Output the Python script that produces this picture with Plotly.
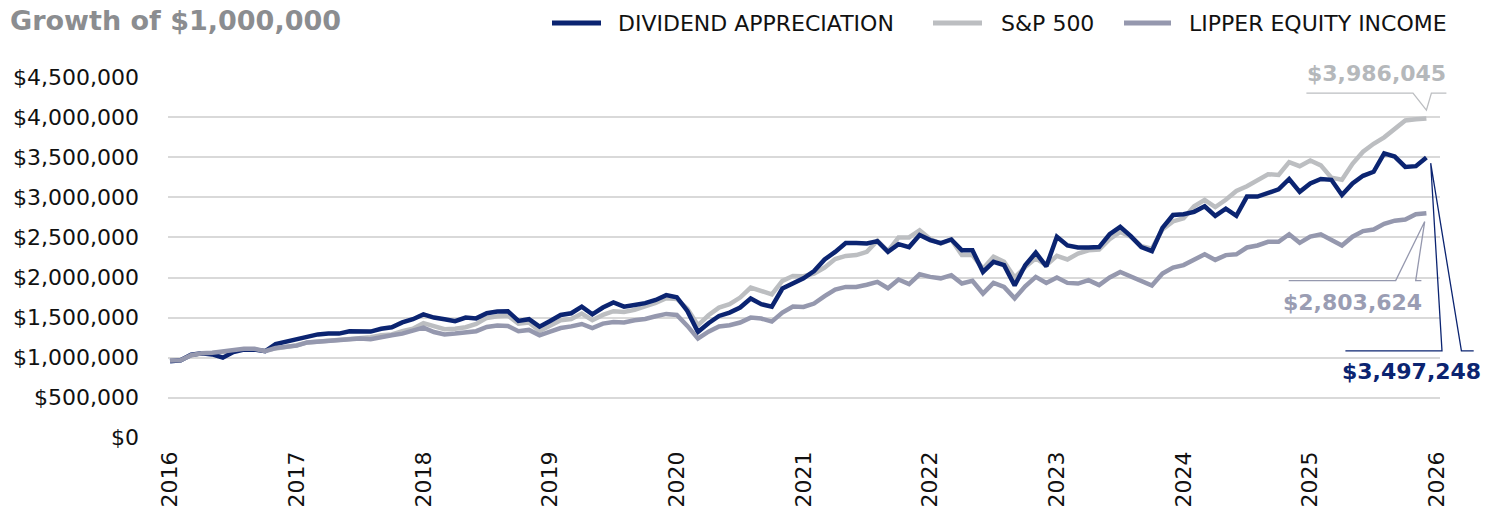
import plotly.graph_objects as go

# ---------------- data (monthly, Jan 2016 - Dec 2025) ----------------
start_year = 2016
dividend_appreciation = [
    955000, 967000, 1037000, 1054000, 1040000, 1000000, 1070000, 1100000, 1100000, 1080000, 1170000, 1200000,
    1230000, 1260000, 1290000, 1300000, 1300000, 1330000, 1330000, 1325000, 1360000, 1380000, 1440000, 1480000,
    1540000, 1500000, 1480000, 1455000, 1500000, 1490000, 1554000, 1575000, 1580000, 1458000, 1480000, 1387000,
    1458000, 1533000, 1554000, 1637000, 1540000, 1625000, 1688000, 1637000, 1658000, 1680000, 1720000, 1780000,
    1754000, 1583000, 1320000, 1430000, 1520000, 1562000, 1625000, 1738000, 1667000, 1637000, 1862000, 1925000,
    1990000, 2080000, 2225000, 2320000, 2430000, 2430000, 2425000, 2454000, 2320000, 2417000, 2380000, 2530000,
    2467000, 2430000, 2475000, 2340000, 2340000, 2070000, 2196000, 2154000, 1900000, 2154000, 2310000, 2140000,
    2510000, 2400000, 2375000, 2375000, 2380000, 2540000, 2633000, 2517000, 2380000, 2330000, 2620000, 2780000,
    2790000, 2820000, 2890000, 2770000, 2860000, 2770000, 3010000, 3010000, 3050000, 3100000, 3230000, 3070000,
    3175000, 3230000, 3220000, 3030000, 3175000, 3270000, 3320000, 3550000, 3510000, 3380000, 3390000, 3497248,
]
sp500 = [
    962000, 968000, 1030000, 1050000, 1055000, 1070000, 1090000, 1100000, 1100000, 1085000, 1115000, 1135000,
    1155000, 1190000, 1200000, 1210000, 1225000, 1235000, 1250000, 1255000, 1280000, 1290000, 1330000, 1360000,
    1430000, 1390000, 1355000, 1360000, 1380000, 1420000, 1496000, 1517000, 1525000, 1425000, 1438000, 1333000,
    1408000, 1467000, 1483000, 1550000, 1467000, 1533000, 1580000, 1570000, 1596000, 1638000, 1683000, 1742000,
    1733000, 1612000, 1404000, 1529000, 1625000, 1667000, 1750000, 1875000, 1833000, 1790000, 1958000, 2020000,
    2017000, 2050000, 2125000, 2230000, 2270000, 2280000, 2320000, 2460000, 2330000, 2500000, 2500000, 2590000,
    2480000, 2425000, 2475000, 2280000, 2280000, 2110000, 2260000, 2196000, 2000000, 2130000, 2240000, 2154000,
    2270000, 2225000, 2300000, 2340000, 2350000, 2480000, 2570000, 2510000, 2390000, 2360000, 2600000, 2700000,
    2740000, 2890000, 2970000, 2880000, 2970000, 3080000, 3140000, 3210000, 3290000, 3280000, 3440000, 3390000,
    3460000, 3400000, 3245000, 3220000, 3420000, 3570000, 3670000, 3750000, 3850000, 3960000, 3975000, 3986045,
]
lipper_equity_income = [
    965000, 967000, 1030000, 1054000, 1060000, 1080000, 1100000, 1110000, 1110000, 1080000, 1120000, 1140000,
    1150000, 1190000, 1200000, 1210000, 1220000, 1225000, 1240000, 1230000, 1260000, 1280000, 1300000, 1340000,
    1375000, 1320000, 1290000, 1300000, 1310000, 1330000, 1383000, 1400000, 1396000, 1330000, 1346000, 1279000,
    1325000, 1370000, 1390000, 1420000, 1370000, 1425000, 1446000, 1438000, 1467000, 1483000, 1517000, 1546000,
    1533000, 1396000, 1238000, 1325000, 1390000, 1404000, 1438000, 1500000, 1488000, 1450000, 1562000, 1638000,
    1633000, 1675000, 1767000, 1850000, 1883000, 1883000, 1910000, 1946000, 1867000, 1975000, 1917000, 2040000,
    2008000, 1990000, 2030000, 1925000, 1958000, 1800000, 1933000, 1883000, 1740000, 1890000, 2008000, 1933000,
    2000000, 1933000, 1925000, 1967000, 1905000, 2000000, 2070000, 2010000, 1946000, 1900000, 2050000, 2125000,
    2155000, 2225000, 2290000, 2220000, 2280000, 2290000, 2375000, 2400000, 2446000, 2446000, 2540000, 2433000,
    2510000, 2540000, 2467000, 2400000, 2510000, 2580000, 2600000, 2670000, 2710000, 2725000, 2790000, 2803624,
]
series_names = ["DIVIDEND APPRECIATION", "S&P 500", "LIPPER EQUITY INCOME"]
year_ticks = list(range(2016, 2027))
y_ticks = list(range(0, 4500001, 500000))

x_vals = [start_year + i / 12 for i in range(len(dividend_appreciation))]

# ---------------- styling ----------------
NAVY = "#0b2471"
LIGHT = "#bcbec1"
PURPLE = "#9598ae"
GRID = "#d9d9d9"
FONT = "DejaVu Sans"
LW = 4.5

W_FIG, H_FIG = 1497, 514
ML, MR, MT, MB = 168, 57, 77, 76
PW, PH = W_FIG - ML - MR, H_FIG - MT - MB
XR = [2015.984, 2026.024]
YR = [-3000, 4503000]

fig = go.Figure()
# drawing order: S&P at the bottom, then Dividend, then Lipper
fig.add_trace(go.Scatter(x=x_vals, y=sp500, name=series_names[1], mode="lines",
                         line=dict(color=LIGHT, width=LW)))
fig.add_trace(go.Scatter(x=x_vals, y=dividend_appreciation, name=series_names[0], mode="lines",
                         line=dict(color=NAVY, width=LW)))
fig.add_trace(go.Scatter(x=x_vals, y=lipper_equity_income, name=series_names[2], mode="lines",
                         line=dict(color=PURPLE, width=LW)))


def to_paper(xv, yv):
    return (xv - XR[0]) / (XR[1] - XR[0]), (yv - YR[0]) / (YR[1] - YR[0])


def off(p, dx, dy):
    # dx, dy in screen pixels (dy positive = down)
    return p[0] + dx / PW, p[1] - dy / PH


def px2paper(x, y):
    return (x - ML) / PW, (H_FIG - MB - y) / PH


def path(points):
    return "M" + " L".join(f"{x:.5f},{y:.5f}" for x, y in points)


# ---------------- end-value callouts ----------------
end_x = x_vals[-1]
callouts = [
    (sp500, "#b5b8bb", (-50, -45),
     [(-120, -25.3), (-13.4, -25.3), (0, -8.3), (5, -25.3), (20, -25.3)], (-93, -16, 80, 24), LIGHT),
    (lipper_equity_income, "#9a9db3", (-74, 89),
     [(-137.7, 67.4), (-30.7, 67.4), (-1.7, 8.4), (-10.7, 67.4), (-5, 67.4)], (-86, -32, 95, 10), PURPLE),
    (dividend_appreciation, NAVY, (-15, 214),
     [(-81, 193.3), (15.6, 193.3), (4.3, 5.6), (35, 193.3), (47.3, 193.3)], (-90, -20, 40, 20), NAVY),
]

for vals, tcol, loff, leader, rect, lcol in callouts:
    ep = to_paper(end_x, vals[-1])
    lp = off(ep, *loff)
    r0 = off(lp, rect[0], rect[3])
    r1 = off(lp, rect[2], rect[1])
    fig.add_shape(type="rect", xref="paper", yref="paper", x0=r0[0], y0=r0[1], x1=r1[0], y1=r1[1],
                  fillcolor="white", line=dict(width=0), layer="between")
    fig.add_shape(type="path", xref="paper", yref="paper", path=path([off(ep, dx, dy) for dx, dy in leader]),
                  line=dict(color=lcol, width=1.3), layer="above")
    fig.add_annotation(x=lp[0], y=lp[1], xref="paper", yref="paper", showarrow=False,
                       text=f"<b>${vals[-1]:,.0f}</b>", xanchor="center", yanchor="middle",
                       font=dict(family=FONT, size=22, color=tcol))

# ---------------- legend (drawn manually to match key length / spacing) ----------------
legend_items = [(series_names[0], NAVY, 552, 601, 616),
                (series_names[1], LIGHT, 933, 982, 999),
                (series_names[2], PURPLE, 1124, 1171, 1187)]
LEG_Y = 23
for name, col, lx0, lx1, tx in legend_items:
    a = px2paper(lx0, LEG_Y)
    b = px2paper(lx1, LEG_Y)
    fig.add_shape(type="line", xref="paper", yref="paper", x0=a[0], y0=a[1], x1=b[0], y1=b[1],
                  line=dict(color=col, width=5), layer="above")
    t = px2paper(tx, LEG_Y)
    fig.add_annotation(x=t[0], y=t[1], xref="paper", yref="paper", showarrow=False, text=name,
                       xanchor="left", yanchor="middle", font=dict(family=FONT, size=22, color="#111111"))

fig.update_layout(
    width=W_FIG, height=H_FIG,
    margin=dict(l=ML, r=MR, t=MT, b=MB, pad=0, autoexpand=False),
    paper_bgcolor="white", plot_bgcolor="white",
    title=dict(text="<b>Growth of $1,000,000</b>", x=10 / W_FIG, xanchor="left", xref="container",
               y=1 - 21 / H_FIG, yanchor="middle", yref="container",
               font=dict(family=FONT, size=27, color="#8b8d90")),
    showlegend=False,
    xaxis=dict(range=XR, tickvals=year_ticks, ticktext=[str(y) for y in year_ticks], tickangle=-90,
               showgrid=False, zeroline=False, showline=False, ticks="",
               tickfont=dict(family=FONT, size=22, color="#111111"), ticklabelstandoff=8),
    yaxis=dict(range=YR, tickvals=y_ticks, ticktext=[f"${v:,}" for v in y_ticks],
               showgrid=True, gridcolor=GRID, gridwidth=1.5, zeroline=False, showline=False, ticks="",
               tickfont=dict(family=FONT, size=22, color="#111111"), ticklabelstandoff=28),
)

# remove the page's default body margin so the figure sits at the top-left corner
fig.write_html("out.html", config={"displayModeBar": False},
               post_script="document.body.style.margin='0px';")
